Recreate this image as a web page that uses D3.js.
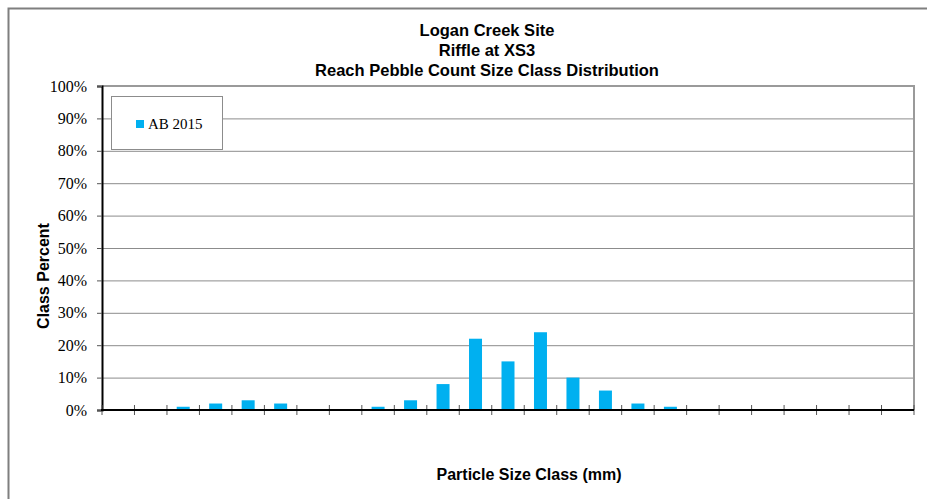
<!DOCTYPE html>
<html>
<head>
<meta charset="utf-8">
<script src="https://cdn.jsdelivr.net/npm/d3@7"></script>
<style>
  html, body { margin: 0; padding: 0; background: #fff; }
  svg { display: block; }
</style>
</head>
<body>
<div id="chart"></div>
<script>
// ----- DATA -----
const titleLines = ["Logan Creek Site", "Riffle at XS3", "Reach Pebble Count Size Class Distribution"];
// size classes (upper bound, mm) - not labelled on the chart
const sizeClasses = ["0.062","0.125","0.25","0.5","1","2","4","5.7","8","11.3","16","22.6","32",
                     "45","64","90","128","180","256","362","512","1024","2048","4096","Bedrock"];
const ab2015 = [0,0,1,2,3,2,0,0,1,3,8,22,15,24,10,6,2,1,0,0,0,0,0,0,0];
const yTicks = [0,10,20,30,40,50,60,70,80,90,100];
const seriesName = "AB 2015";

const W = 927, H = 499;
const plot = {left: 102, right: 914, top: 86, bottom: 410};

const svg = d3.select("#chart").append("svg")
    .attr("width", W).attr("height", H);

// outer frame
svg.append("rect")
    .attr("x", 8.5).attr("y", 8.5)
    .attr("width", W + 10).attr("height", H + 10)
    .attr("fill", "#fff").attr("stroke", "#7f7f7f").attr("stroke-width", 2);

// scales
const x = d3.scaleBand()
    .domain(sizeClasses)
    .range([plot.left, plot.right])
    .paddingInner(0.6)
    .paddingOuter(0.3);

const y = d3.scaleLinear()
    .domain([0, 100])
    .range([plot.bottom, plot.top]);

// gridlines
svg.append("g").selectAll("line")
    .data(yTicks.filter(d => d > 0))
    .join("line")
    .attr("x1", plot.left).attr("x2", plot.right)
    .attr("y1", d => y(d) + 0.5).attr("y2", d => y(d) + 0.5)
    .attr("stroke", "#8c8c8c").attr("stroke-width", 1);

// plot border (top / right)
svg.append("path")
    .attr("d", `M${plot.left},${plot.top} H${plot.right} V${plot.bottom}`)
    .attr("fill", "none").attr("stroke", "#9a9a9a").attr("stroke-width", 2);

// bars
svg.append("g").selectAll("rect")
    .data(ab2015.map((v, i) => ({k: sizeClasses[i], v})))
    .join("rect")
    .attr("x", d => x(d.k))
    .attr("y", d => y(d.v))
    .attr("width", x.bandwidth())
    .attr("height", d => y(0) - y(d.v))
    .attr("fill", "#00b0f0");

// y axis
const yAxis = svg.append("g")
    .attr("transform", `translate(${plot.left},0)`)
    .call(d3.axisLeft(y).tickValues(yTicks).tickFormat(d => d + "%").tickSize(5).tickPadding(10));
yAxis.select(".domain").attr("stroke", "#000").attr("stroke-width", 2);
yAxis.selectAll(".tick line").attr("stroke", "#555");
yAxis.selectAll("text")
    .attr("font-family", "'Liberation Serif', 'Times New Roman', serif")
    .attr("font-size", 16).attr("fill", "#000");

// x axis (cross ticks at category boundaries, no labels)
const bounds = d3.range(sizeClasses.length + 1).map(i => plot.left + i * x.step());
svg.append("g").selectAll("line")
    .data(bounds)
    .join("line")
    .attr("x1", d => d).attr("x2", d => d)
    .attr("y1", plot.bottom - 5).attr("y2", plot.bottom + 5)
    .attr("stroke", "#555");
svg.append("line")
    .attr("x1", plot.left - 1).attr("x2", plot.right)
    .attr("y1", plot.bottom).attr("y2", plot.bottom)
    .attr("stroke", "#000").attr("stroke-width", 2);

// titles
const title = svg.append("text")
    .attr("text-anchor", "middle")
    .attr("font-family", "Arial, 'Liberation Sans', sans-serif")
    .attr("font-weight", "bold").attr("font-size", 16.5);
title.selectAll("tspan")
    .data(titleLines)
    .join("tspan")
    .attr("x", 487)
    .attr("y", (d, i) => 36 + i * 20)
    .text(d => d);

svg.append("text")
    .attr("x", 529).attr("y", 480)
    .attr("text-anchor", "middle")
    .attr("font-family", "Arial, 'Liberation Sans', sans-serif")
    .attr("font-weight", "bold").attr("font-size", 16)
    .text("Particle Size Class (mm)");

svg.append("text")
    .attr("transform", "translate(48.5,276) rotate(-90)")
    .attr("text-anchor", "middle")
    .attr("font-family", "Arial, 'Liberation Sans', sans-serif")
    .attr("font-weight", "bold").attr("font-size", 16)
    .text("Class Percent");

// legend
const legend = svg.append("g");
legend.append("rect")
    .attr("x", 111.5).attr("y", 96.5).attr("width", 111).attr("height", 53)
    .attr("fill", "#fff").attr("stroke", "#8c8c8c");
legend.append("rect")
    .attr("x", 136).attr("y", 120).attr("width", 8).attr("height", 8)
    .attr("fill", "#00b0f0");
legend.append("text")
    .attr("x", 148).attr("y", 128.5)
    .attr("font-family", "'Liberation Serif', 'Times New Roman', serif")
    .attr("font-size", 15)
    .text(seriesName);
</script>
</body>
</html>
